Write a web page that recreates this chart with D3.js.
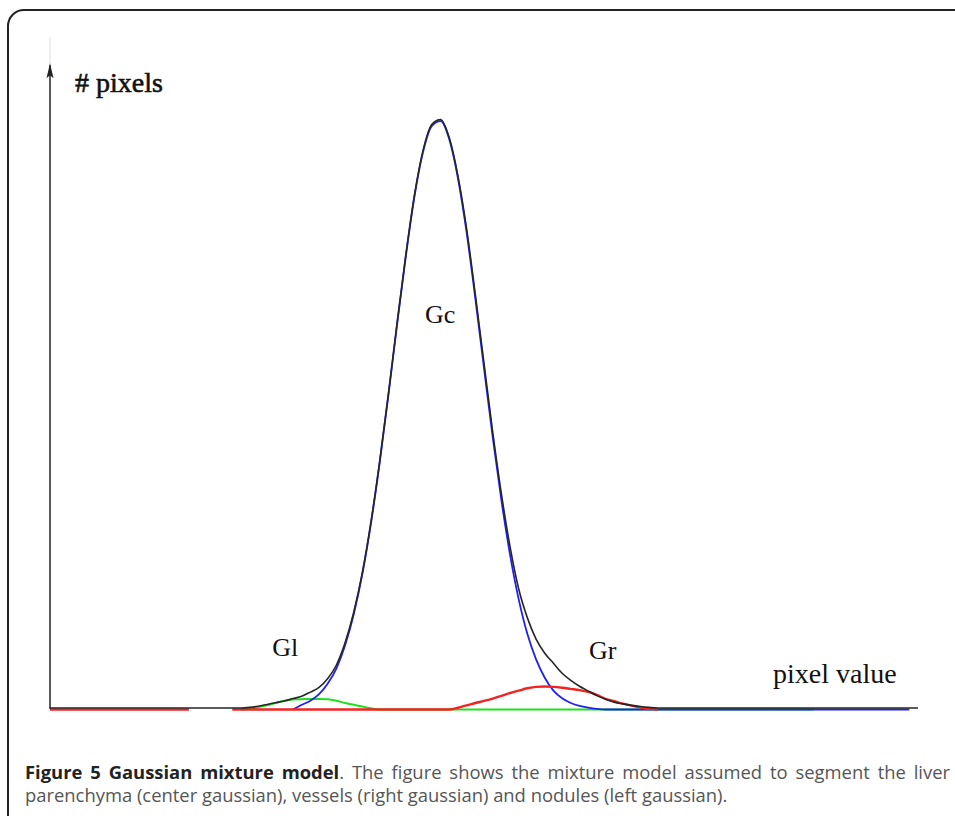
<!DOCTYPE html>
<html>
<head>
<meta charset="utf-8">
<script src="https://cdn.jsdelivr.net/npm/d3@7"></script>
<style>
  body { margin: 0; background: #fff; }
  svg { display: block; }
</style>
</head>
<body>
<svg id="chart"></svg>
<script>
// pixel value grid (arbitrary units) shared by all series
const pixelValue = [0, 5, 10, 16, 18, 21, 22, 23, 24, 25, 26, 27, 28, 29, 30, 31, 32, 33, 34, 35,
  36, 37, 38, 39, 40, 41, 42, 43, 44, 45, 46, 47, 48, 49, 50, 51, 52, 53, 54, 55,
  56, 57, 58, 59, 60, 61, 62, 63, 64, 65, 66, 67, 68, 69, 70, 75, 80, 85, 88, 90, 95, 99, 100];

// left gaussian (nodules), null = not drawn
const gl = [null, null, null, null, null, null, 0, 0.1, 0.4, 0.7, 1.1, 1.5, 1.7, 1.75, 1.8, 1.8, 1.75, 1.5, 1.1, 0.8,
  0.5, 0.2, 0, 0, 0, 0, 0, 0, 0, 0, 0, 0, 0, 0, 0, 0, 0, 0, 0, 0,
  0, 0, 0, 0, 0, 0, 0, 0, 0, 0, 0, 0, 0, 0, 0, 0, 0, 0, 0, null, null, null, null];

// center gaussian (parenchyma)
const gc = [null, null, null, null, null, null, null, null, null, null, null, null, 0, 0.8, 1.5, 2.6, 4.4, 7.0, 10.9, 16.2,
  23.1, 31.8, 42.1, 53.5, 65.5, 77.0, 87.2, 94.8, 99.1, 99.9, 96.8, 90.2, 81.0, 69.8, 58.0, 46.3, 35.6, 26.3, 18.7, 12.8,
  8.5, 5.4, 3.2, 1.9, 1.1, 0.6, 0.3, 0.1, 0, 0, 0, 0, 0, 0, 0, 0, 0, 0, 0, 0, 0, 0, null];

// right gaussian (vessels)
const gr = [0, 0, 0, 0, null, 0, 0, 0, 0, 0, 0, 0, 0, 0, 0, 0, 0, 0, 0, 0,
  0, 0, 0, 0, 0, 0, 0, 0, 0, 0, 0, 0.3, 0.7, 1.1, 1.45, 1.85, 2.3, 2.8, 3.2, 3.6,
  3.85, 3.9, 3.85, 3.7, 3.5, 3.3, 3.0, 2.5, 1.8, 1.4, 1.0, 0.65, 0.35, 0.1, 0, null, null, null, null, null, null, null, null];

// mixture (sum)
const mixture = [0, 0, 0, 0, 0, 0, 0, 0.1, 0.3, 0.6, 0.9, 1.2, 1.6, 2.0, 2.7, 3.5, 5.0, 7.3, 11.1, 16.3,
  23.1, 31.8, 42.1, 53.5, 65.5, 77.0, 87.2, 94.8, 99.1, 99.9, 96.8, 90.3, 81.3, 70.2, 58.5, 46.9, 36.4, 27.4, 20.2, 15.3,
  11.7, 9.3, 7.6, 5.9, 4.7, 3.7, 2.9, 2.1, 1.5, 1.0, 0.7, 0.45, 0.25, 0.1, 0, 0, 0, 0, 0, 0, 0, 0, 0];

const labels = [
  {text: 'Gc', x: 43.2, y: 65.5},
  {text: 'Gl', x: 25.6, y: 9.0},
  {text: 'Gr', x: 62.1, y: 8.5},
];

const captionBold = 'Figure 5 Gaussian mixture model';
const captionLine1 = '. The figure shows the mixture model assumed to segment the liver';
const captionLine2 = 'parenchyma (center gaussian), vessels (right gaussian) and nodules (left gaussian).';

const width = 955;
const height = 816;

const svg = d3.select('#chart')
    .attr('width', width)
    .attr('height', height);

// frame, cut off on the right and bottom
svg.append('rect')
    .attr('x', 8)
    .attr('y', 10)
    .attr('width', 1000)
    .attr('height', 900)
    .attr('rx', 16)
    .attr('fill', 'none')
    .attr('stroke', '#222')
    .attr('stroke-width', 2);

const x = d3.scaleLinear().domain([0, 100]).range([50, 918]);
const y = d3.scaleLinear().domain([0, 100]).range([709, 120]);
const yTop = 109.3; // where the axis arrow ends

const g = svg.append('g');

// y axis with arrow
g.append('line')
    .attr('x1', x(0)).attr('x2', x(0))
    .attr('y1', y(yTop)).attr('y2', y(114))
    .attr('stroke', '#ddd')
    .attr('stroke-width', 1);

g.append('line')
    .attr('x1', x(0)).attr('x2', x(0))
    .attr('y1', y(0)).attr('y2', y(yTop))
    .attr('stroke', '#222')
    .attr('stroke-width', 1.5);

g.append('path')
    .attr('d', 'M' + x(0) + ',' + (y(yTop) - 2) +
      'l-3.5,15 l3.5,-3 l3.5,3 z')
    .attr('fill', '#222');

function drawSeries(values, color, widthPx, dy) {
  const pts = pixelValue.map((v, i) => [v, values[i]]);
  const line = d3.line()
      .defined((d) => d[1] !== null)
      .x((d) => x(d[0]))
      .y((d) => y(d[1]) + dy)
      .curve(d3.curveMonotoneX);
  g.append('path')
      .datum(pts)
      .attr('d', line)
      .attr('fill', 'none')
      .attr('stroke', color)
      .attr('stroke-width', widthPx)
      .attr('stroke-linejoin', 'round');
}

drawSeries(gl, '#1ee01e', 2, 0.5);
drawSeries(gc, '#2020f0', 1.8, 0.5);
drawSeries(gr, '#f52222', 2.4, 0.5);
drawSeries(mixture, '#262626', 1.6, -1);

// text labels
const serif = '"Liberation Serif", "Times New Roman", serif';

g.append('text')
    .attr('x', 75)
    .attr('y', 92)
    .attr('font-family', serif)
    .attr('font-size', 28)
    .attr('fill', '#111')
    .attr('stroke', '#111')
    .attr('stroke-width', 0.6)
    .text('# pixels');

g.selectAll('.glabel')
    .data(labels)
    .enter()
    .append('text')
    .attr('class', 'glabel')
    .attr('x', (d) => x(d.x))
    .attr('y', (d) => y(d.y))
    .attr('font-family', serif)
    .attr('font-size', 26)
    .attr('fill', '#111')
    .text((d) => d.text);

g.append('text')
    .attr('x', 773)
    .attr('y', 683)
    .attr('font-family', serif)
    .attr('font-size', 28)
    .attr('fill', '#111')
    .text('pixel value');

// caption
const sans = '"Open Sans", "Noto Sans", sans-serif';
const cap = svg.append('g')
    .attr('font-family', sans)
    .attr('fill', '#555');

const line2 = cap.append('text')
    .attr('x', 25)
    .attr('y', 802)
    .attr('font-size', 16)
    .text(captionLine2);

// fit line 2 to its width in the figure
const fs = 16 * 703 / line2.node().getComputedTextLength();
line2.attr('font-size', fs);

const line1 = cap.append('text')
    .attr('x', 25)
    .attr('y', 779)
    .attr('font-size', fs);
line1.append('tspan')
    .attr('font-weight', 'bold')
    .attr('fill', '#222')
    .text(captionBold);
line1.append('tspan')
    .text(captionLine1);

// justify line 1
const spaces = (captionBold + captionLine1).split(' ').length - 1;
const extra = (925 - line1.node().getComputedTextLength()) / spaces;
line1.attr('word-spacing', extra);
</script>
</body>
</html>
